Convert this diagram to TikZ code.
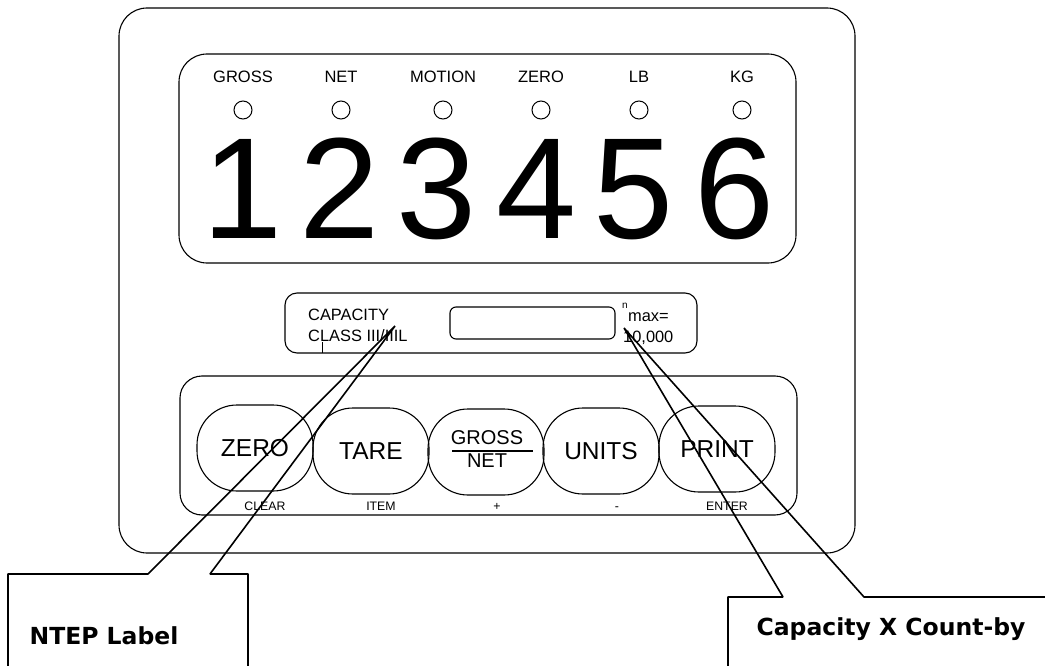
\documentclass[tikz,border=0pt]{standalone}
\usepackage{fontspec}
\setmainfont{Liberation Sans}
\newfontfamily\callfont{DejaVu Sans}
\usetikzlibrary{positioning}
\tikzset{
  pnl/.style     = {draw, line width=1.1pt},
  led/.style     = {circle, draw, minimum size=18pt, inner sep=0pt,
                    line width=1pt},
  ledlbl/.style  = {anchor=base, inner sep=0pt,
                    font=\fontsize{16.5}{18}\selectfont},
  dig/.style     = {anchor=base, inner sep=0pt,
                    font=\fontsize{144}{150}\selectfont},
  btn/.style     = {draw, rounded corners=40pt, minimum width=116pt,
                    minimum height=86pt, inner sep=0pt, line width=1.1pt,
                    font=\fontsize{24.5}{26}\selectfont},
  btnsm/.style   = {anchor=base, inner sep=0pt,
                    font=\fontsize{20}{22}\selectfont},
  sublbl/.style  = {anchor=base, inner sep=0pt,
                    font=\fontsize{12.3}{14}\selectfont},
  txt/.style     = {anchor=base west, inner sep=0pt,
                    font=\fontsize{16.4}{18}\selectfont},
  callout/.style = {line width=1.6pt, line join=bevel},
  calltxt/.style = {anchor=base, inner sep=0pt,
                    font=\callfont\bfseries\fontsize{23.5}{26}\selectfont},
}

\begin{document}
\begin{tikzpicture}[x=1pt, y=-1pt]
  \useasboundingbox (0,0) rectangle (1045,666);
  % housing
  \draw[pnl, rounded corners=28pt] (119,8) rectangle (855,553);
  % weight display
  \draw[pnl, rounded corners=28pt] (179,54) rectangle (796,263);
  \node[ledlbl] (lgross) at (243,83) {GROSS};
  \node[ledlbl] (lnet)   at (341,83) {NET};
  \node[ledlbl] (lmot)   at (443,83) {MOTION};
  \node[ledlbl] (lzero)  at (541,83) {ZERO};
  \node[ledlbl] (llb)    at (639,83) {LB};
  \node[ledlbl] (lkg)    at (742,83) {KG};
  \node[led] (gross) at (243,110) {};
  \node[led] (net)   at (341,110) {};
  \node[led] (mot)   at (443,110) {};
  \node[led] (zero)  at (541,110) {};
  \node[led] (lb)    at (639,110) {};
  \node[led] (kg)    at (742,110) {};
  \node[dig] (d1) at (243,239) {1};
  \node[dig] (d2) at (340,239) {2};
  \node[dig] (d3) at (437,239) {3};
  \node[dig] (d4) at (537,239) {4};
  \node[dig] (d5) at (634,239) {5};
  \node[dig] (d6) at (735,239) {6};
  % capacity plate
  \draw[pnl, rounded corners=12pt] (285,293) rectangle (697,353);
  \draw[pnl, rounded corners=6pt] (450,307) rectangle (615,339);
  \node[txt] (cap)   at (308,320) {CAPACITY};
  \node[txt] (cls)   at (308,341) {CLASS III/IIIL};
  \node[txt, font=\fontsize{10}{11}\selectfont] (nsup) at (622,308) {n};
  \node[txt] (nmax)  at (628,321) {max=};
  \node[txt] (nval)  at (623,342) {10,000};
  \draw[line width=1pt] (322,342) -- (322,353);
  % keypad
  \draw[pnl, rounded corners=22pt] (180,376) rectangle (797,515);
  \node[btn] (bzero)  at (255,448) {ZERO};
  \node[btn] (btare)  at (371,451) {TARE};
  \node[btn] (bgn)    at (486,452) {};
  \node[btn] (bunits) at (601,451) {UNITS};
  \node[btn] (bprint) at (717,449) {PRINT};
  \node[btnsm] (gtop) at (487,444) {GROSS};
  \node[btnsm] (gbot) at (487,467) {NET};
  \draw[line width=1.1pt] (452,451) -- (533,451);
  \node[sublbl] (sclear) at (265,510) {CLEAR};
  \node[sublbl] (sitem)  at (381,510) {ITEM};
  \node[sublbl] (splus)  at (497,510) {+};
  \node[sublbl] (sminus) at (617,510) {-};
  \node[sublbl] (senter) at (727,510) {ENTER};
  % callouts
  \coordinate (ntip) at (395,326);
  \coordinate (ctip) at (624,328);
  \draw[callout] (8,670) -- (8,574) -- (148,574) -- (ntip) -- (210,574)
                 -- (248,574) -- (248,670);
  \draw[callout] (728,670) -- (728,597) -- (783,597) -- (ctip) -- (864,597)
                 -- (1050,597);
  \node[calltxt] (ntep) at (104,644) {NTEP Label};
  \node[calltxt] (cxc)  at (891,635) {Capacity X Count-by};
\end{tikzpicture}
\end{document}
